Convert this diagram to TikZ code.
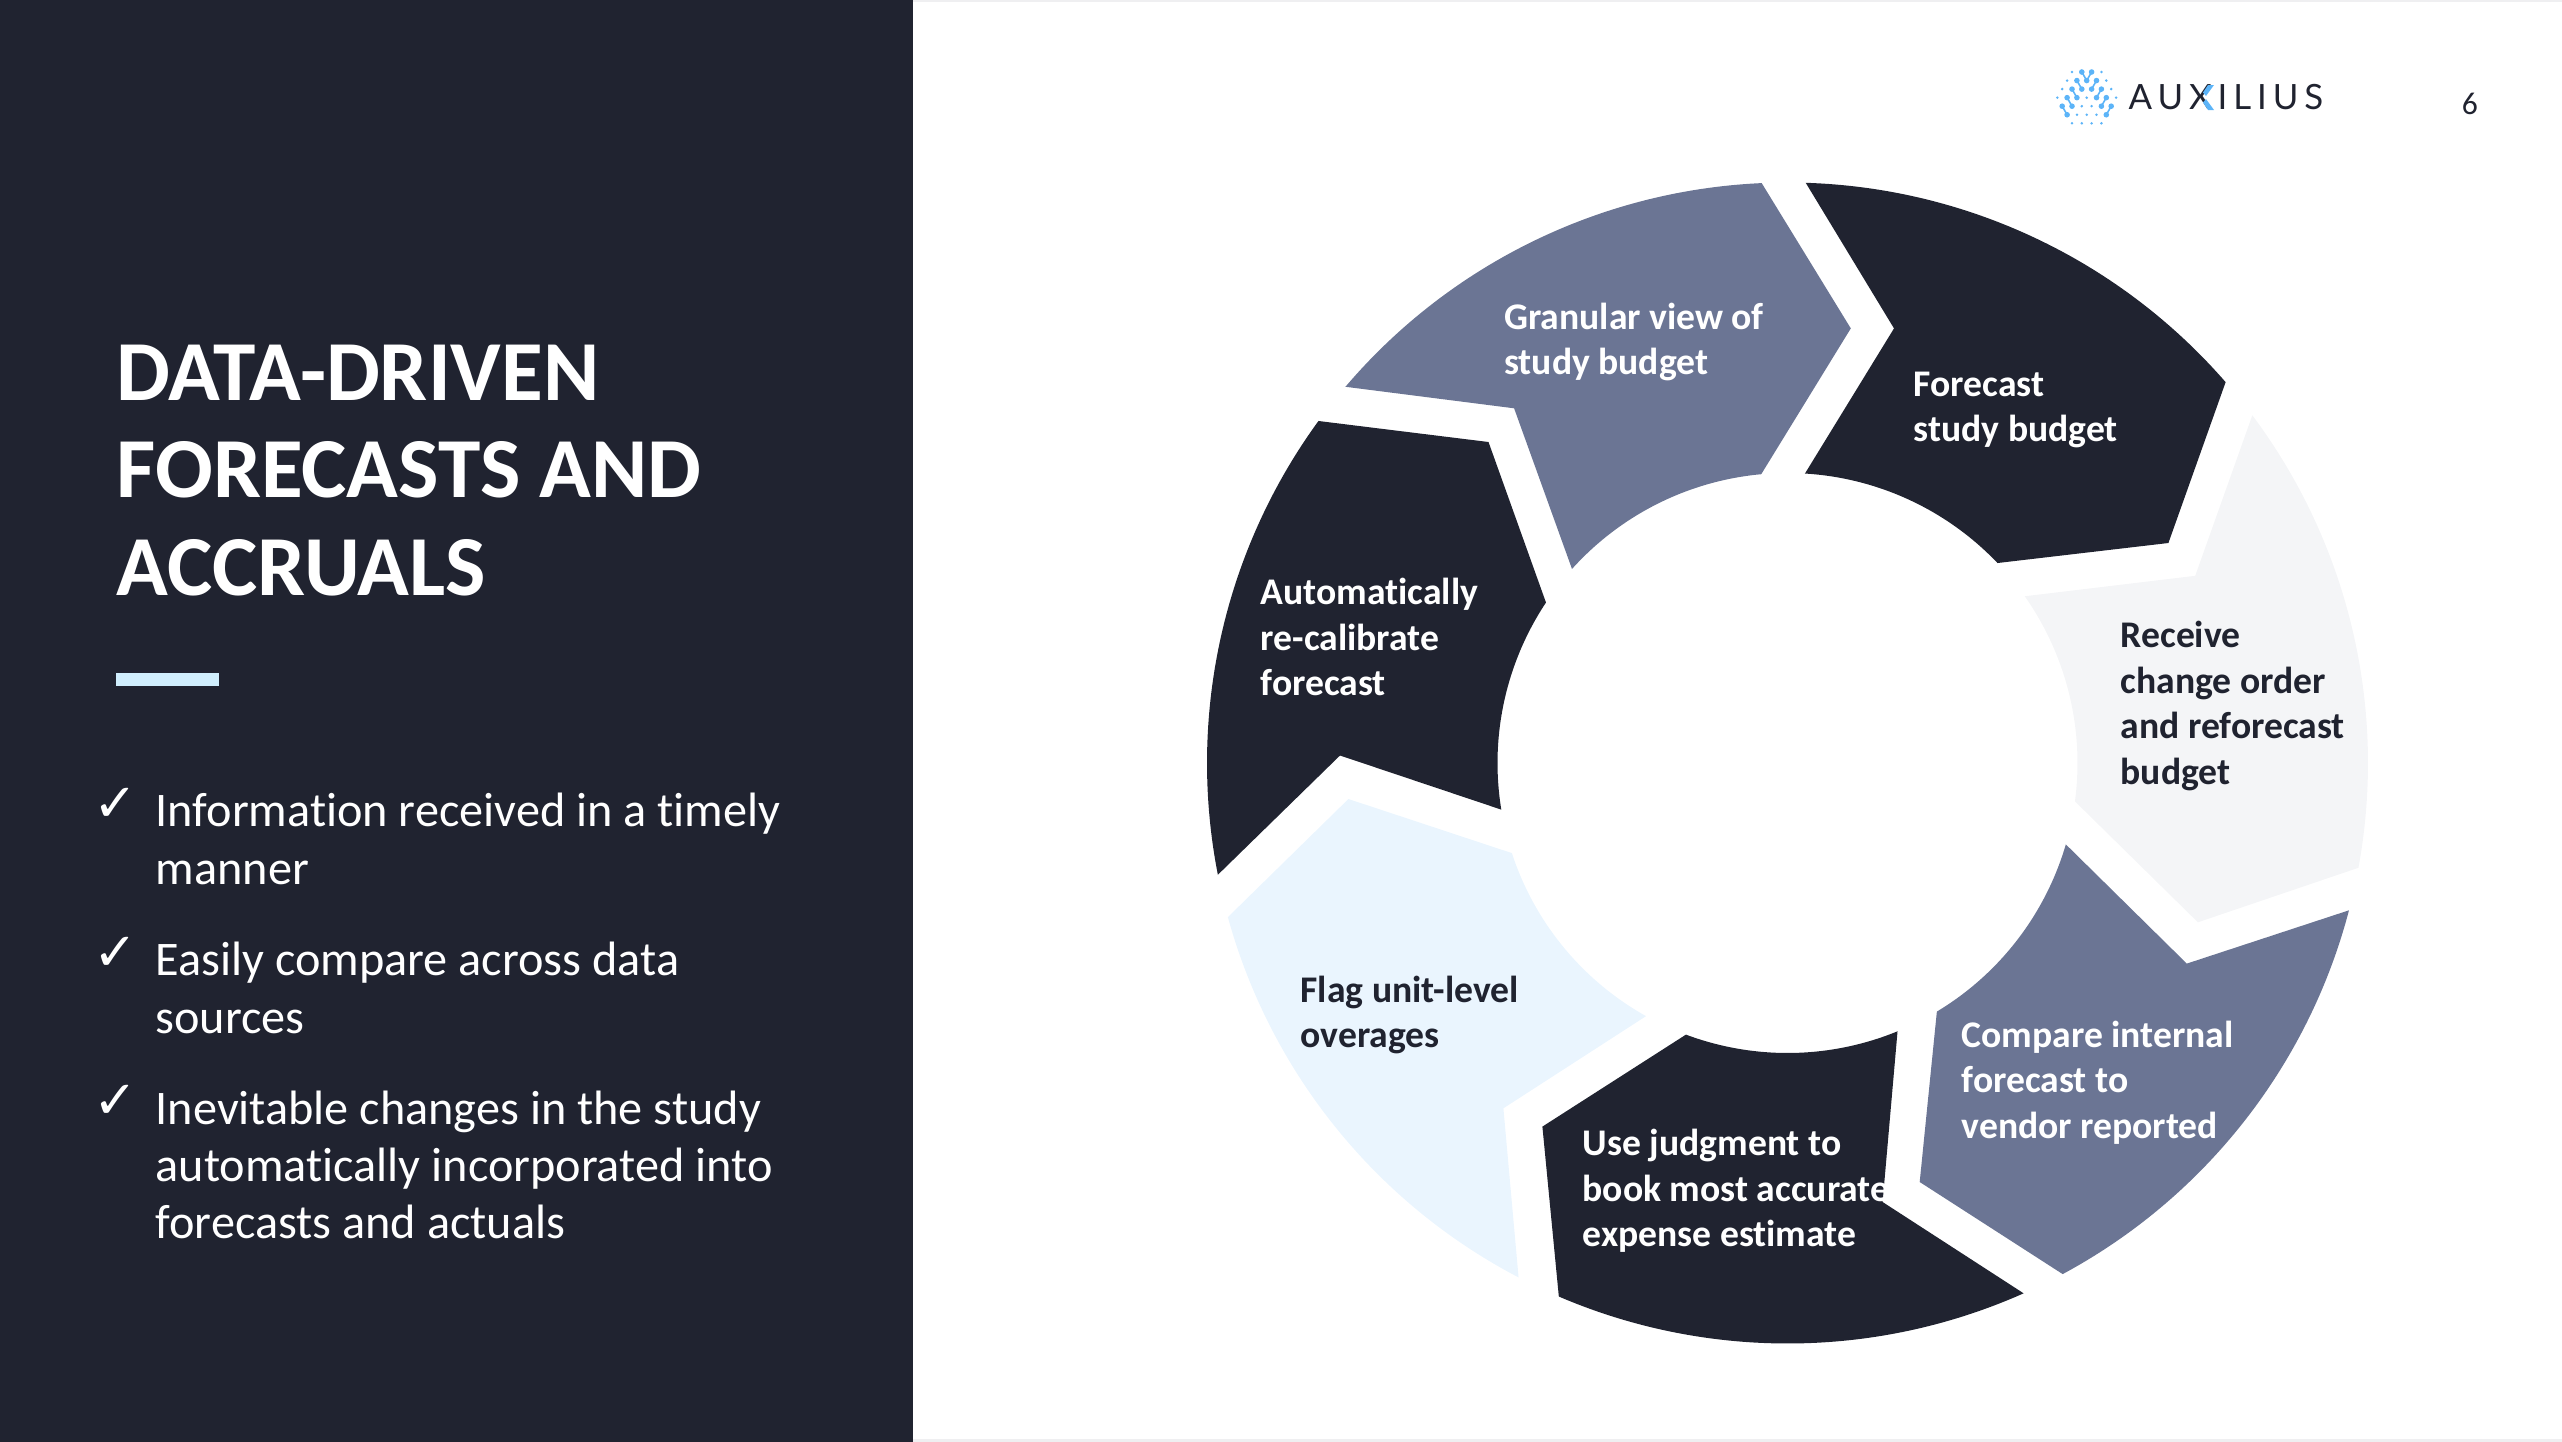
\documentclass[tikz,border=0pt]{standalone}
\usepackage{fontspec}
\setmainfont[Ligatures=NoCommon]{Carlito}
\newfontfamily\symfont{DejaVu Sans}
\newfontfamily\logofont[LetterSpace=17]{Lato}
\definecolor{navy}{HTML}{202330}
\definecolor{slate}{HTML}{6B7594}
\definecolor{palegrey}{HTML}{F4F5F7}
\definecolor{paleblue}{HTML}{EAF5FE}
\definecolor{barblue}{HTML}{D0EEFD}
\definecolor{logoblue}{HTML}{5CB4F8}
\definecolor{edgegrey}{HTML}{EFEFF1}
\tikzset{
  seglabel/.style = {anchor=west, align=left, inner sep=0pt, font=\bfseries\fontsize{10.7}{13}\selectfont},
  titletext/.style = {anchor=north west, align=left, inner sep=0pt, text=white, font=\bfseries\fontsize{24.3}{27.8}\selectfont},
  bullettext/.style = {anchor=north west, align=left, inner sep=0pt, text=white, font=\fontsize{13.72}{16.7}\selectfont},
  tick/.style = {text=white, inner sep=0pt, font=\symfont\fontsize{15}{16}\selectfont}
}
\def\outerrad{580.5}
\def\innerrad{290}
% colour, outer arc angles, point tip, inner arc angles, notch corner
\newcommand{\ringseg}[7]{\fill[#1] ([shift={(ctr)}]#2:\outerrad) arc[start angle=#2, end angle=#3, radius=\outerrad]
  -- (#4) -- ([shift={(ctr)}]#5:\innerrad) arc[start angle=#5, end angle=#6, radius=\innerrad] -- (#7) -- cycle;}

\begin{document}
\begin{tikzpicture}[x=.01cm, y=-.01cm]
\useasboundingbox (0,0) rectangle (2562,1442);
\fill[edgegrey] (913,0) rectangle (2562,2);
\fill[edgegrey] (913,1439) rectangle (2562,1442);
\fill[navy] (0,0) rectangle (913,1442);

% left panel
\node[titletext] (title) at (116,344) {DATA-DRIVEN\\FORECASTS AND\\ACCRUALS};
\fill[barblue] (116,673) rectangle (219,686);
\node[tick] (tickA) at (115.5,805) {✓};
\node[tick] (tickB) at (115.5,954) {✓};
\node[tick] (tickC) at (115.5,1102) {✓};
\node[bullettext] (infoA) at (155,792) {Information received in a timely\\manner};
\node[bullettext] (infoB) at (155,941) {Easily compare across data\\sources};
\node[bullettext, font=\fontsize{13.72}{16.2}\selectfont] (infoC) at (155,1090) {Inevitable changes in the study\\automatically incorporated into\\forecasts and actuals};

% ring of seven arrows
\coordinate (ctr) at (1787.5,763);
\ringseg{slate}{220.4}{267.45}{1850.8,328.4}{264.8}{222}{1514.1,408.3}
\ringseg{navy}{271.8}{319}{2168.4,543}{316.4}{273.45}{1894,328.4}
\ringseg{palegrey}{323.2}{370.4}{2197.9,922.3}{367.6}{324.9}{2195.2,575.8}
\ringseg{slate}{14.7}{61.7}{1919.7,1182}{59}{16.3}{2186.8,963.6}
\ringseg{navy}{66}{113.2}{1542.4,1126.6}{110.5}{67.7}{1882.6,1202}
\ringseg{paleblue}{117.6}{164.6}{1348.4,799}{161.9}{119.2}{1503.4,1108.3}
\ringseg{navy}{168.9}{216.1}{1488.5,442}{213.6}{170.75}{1340,755.5}

\node[seglabel, text=white] (granular) at (1503.5,342) {Granular view of\\study budget};
\node[seglabel, text=white] (forecast) at (1913,410) {Forecast\\study budget};
\node[seglabel, text=navy] (receive) at (2120,706) {Receive\\change order\\and reforecast\\budget};
\node[seglabel, text=white] (compare) at (1961,1082.5) {Compare internal\\forecast to\\vendor reported};
\node[seglabel, text=white] (judgment) at (1582,1191) {Use judgment to\\book most accurate\\expense estimate};
\node[seglabel, text=navy] (flag) at (1300,1015) {Flag unit-level\\overages};
\node[seglabel, text=white] (recal) at (1260,637) {Automatically\\re-calibrate\\forecast};

% logo dots
\foreach \u/\v in {-3/0,3/0,-4/1,4/1,-5/2,5/2,-6/3,0/3,6/3,-1/4,1/4,-2/5,0/5,2/5,-3/6,-1/6,1/6,3/6}
  \fill[logoblue] ({2086.7+4.9*\u},{72+8.55*\v}) circle (1.4);
\foreach \u/\v in {-1/0,1/0,-2/1,0/1,2/1,-3/2,-1/2,1/2,3/2,-4/3,-2/3,2/3,4/3,-5/4,-3/4,3/4,5/4,-4/5,4/5}
  \fill[logoblue] ({2086.7+4.9*\u},{72+8.55*\v}) circle (2.8);
\foreach \u/\v/\s/\t in {-1/0/0/1,1/0/0/1,-2/1/-1/2,2/1/1/2,-3/2/-2/3,3/2/2/3,-4/3/-3/4,4/3/3/4,-5/4/-4/5,5/4/4/5}
  \draw[logoblue, line width=.45pt] ({2086.7+4.9*\u},{72+8.55*\v}) -- ({2086.7+4.9*\s},{72+8.55*\t});

\node[anchor=west, inner sep=0pt, text=navy, font=\logofont\fontsize{9.9}{12}\selectfont] (brand) at (2128,97.5) {AUXILIUS};
% right arms of the X in blue
\fill[logoblue] (2208,85) -- (2214,85) -- (2206,96) -- (2203,92.5) -- cycle;
\fill[logoblue] (2203,102.5) -- (2206,99) -- (2214,110) -- (2208,110) -- cycle;
\node[anchor=center, inner sep=0pt, text=navy, font=\fontsize{9}{11}\selectfont] (pagenum) at (2470,104) {6};
\end{tikzpicture}
\end{document}
